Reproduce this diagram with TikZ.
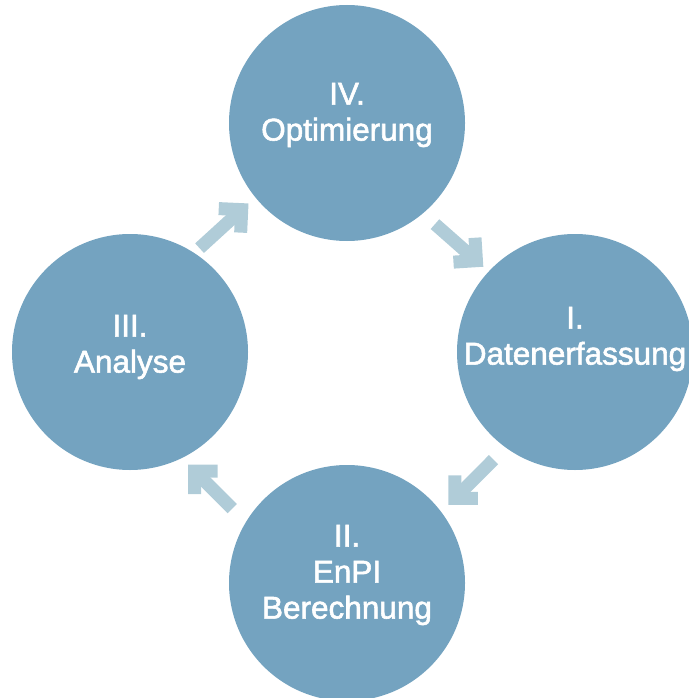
\documentclass[tikz,border=0pt]{standalone}
\usepackage{fontspec}
\setmainfont{Liberation Sans}
\newfontfamily\phasefont{Liberation Sans}[FakeBold=1.8]
\usepackage{tikz}
\usetikzlibrary{arrows.meta, positioning, calc}

\definecolor{phaseblue}{RGB}{116,163,192}
\definecolor{arrowblue}{RGB}{176,204,216}

\tikzset{
    phase/.style={circle, fill=phaseblue, draw=none, minimum size=236pt, inner sep=0pt},
    phasetext/.style={text=white, align=center, font=\phasefont\fontsize{31.5}{36}\selectfont},
    cyclearrow/.style={draw=arrowblue, line width=13pt,
        -{Straight Barb[angle=90:23pt, sharp]}}
}

\begin{document}
\begin{tikzpicture}[x=1pt, y=-1pt]
    \useasboundingbox (0,0) rectangle (688,698);

    % the four phases of the cycle
    \node[phase] (erf) at (575,352) {};
    \node[phase] (ber) at (347,583) {};
    \node[phase] (ana) at (130,352) {};
    \node[phase] (opt) at (347,123) {};

    \node[phasetext] (erflbl) at ([yshift=13pt]erf.center) {I.\\Datenerfassung};
    \node[phasetext] (berlbl) at ([yshift=8pt]ber.center) {II.\\EnPI\\Berechnung};
    \node[phasetext] (analbl) at ([yshift=5pt]ana.center) {III.\\Analyse};
    \node[phasetext] (optlbl) at ([yshift=8pt]opt.center) {IV.\\Optimierung};

    % arrows between the phases
    \draw[cyclearrow, shorten <=7pt, shorten >=9pt] (ana.57.5) -- (opt.219);
    \draw[cyclearrow, shorten <=16pt, shorten >=7pt] (opt.310.5) -- (erf.137.3);
    \draw[cyclearrow, shorten <=17pt, shorten >=10pt] (erf.234.7) -- (ber.37.4);
    \draw[cyclearrow, shorten <=19pt, shorten >=9pt] (ber.149.7) -- (ana.296.2);
\end{tikzpicture}
\end{document}
